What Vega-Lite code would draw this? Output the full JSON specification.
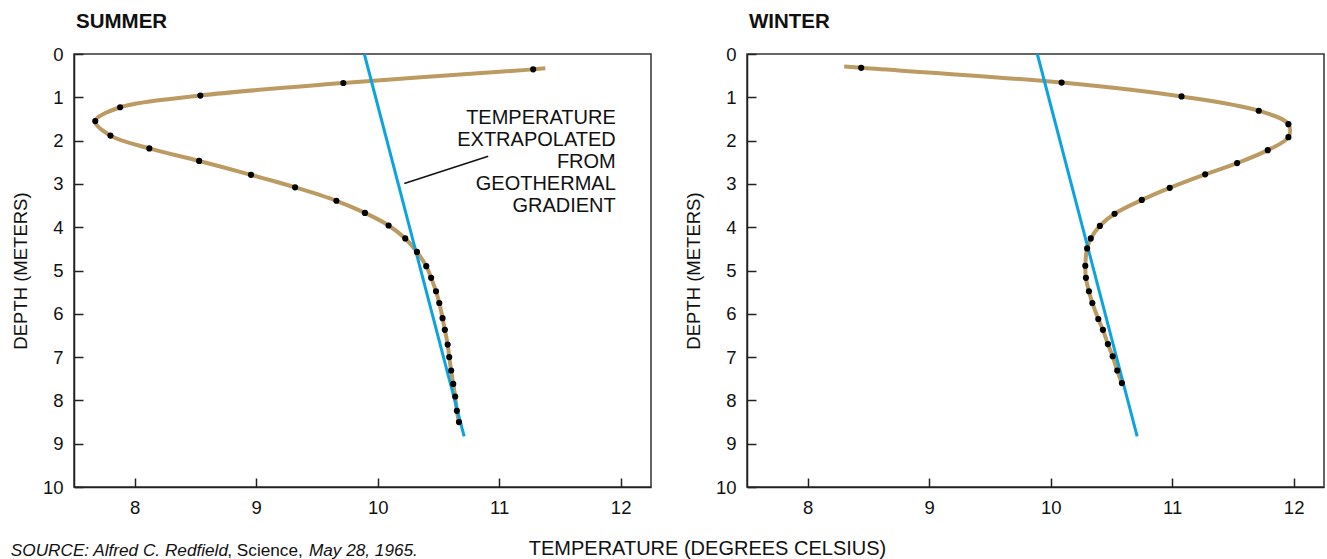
{
  "$schema": "https://vega.github.io/schema/vega-lite/v6.json",
  "padding": {"left": 10, "top": 10, "right": 2, "bottom": 2},
  "background": "white",
  "bounds": "flush",
  "spacing": 96,
  "datasets": {
    "profiles": [
      {"season": "Summer", "temp": 11.38, "depth": 0.33, "dot": false},
      {"season": "Summer", "temp": 11.28, "depth": 0.355, "dot": true},
      {"season": "Summer", "temp": 9.717, "depth": 0.67, "dot": true},
      {"season": "Summer", "temp": 8.54, "depth": 0.96, "dot": true},
      {"season": "Summer", "temp": 7.88, "depth": 1.23, "dot": true},
      {"season": "Summer", "temp": 7.675, "depth": 1.55, "dot": true},
      {"season": "Summer", "temp": 7.8, "depth": 1.885, "dot": true},
      {"season": "Summer", "temp": 8.12, "depth": 2.18, "dot": true},
      {"season": "Summer", "temp": 8.53, "depth": 2.47, "dot": true},
      {"season": "Summer", "temp": 8.957, "depth": 2.79, "dot": true},
      {"season": "Summer", "temp": 9.32, "depth": 3.08, "dot": true},
      {"season": "Summer", "temp": 9.66, "depth": 3.39, "dot": true},
      {"season": "Summer", "temp": 9.895, "depth": 3.67, "dot": true},
      {"season": "Summer", "temp": 10.09, "depth": 3.96, "dot": true},
      {"season": "Summer", "temp": 10.227, "depth": 4.26, "dot": true},
      {"season": "Summer", "temp": 10.323, "depth": 4.57, "dot": true},
      {"season": "Summer", "temp": 10.4, "depth": 4.9, "dot": true},
      {"season": "Summer", "temp": 10.44, "depth": 5.17, "dot": true},
      {"season": "Summer", "temp": 10.48, "depth": 5.48, "dot": true},
      {"season": "Summer", "temp": 10.507, "depth": 5.75, "dot": true},
      {"season": "Summer", "temp": 10.534, "depth": 6.1, "dot": true},
      {"season": "Summer", "temp": 10.553, "depth": 6.37, "dot": true},
      {"season": "Summer", "temp": 10.576, "depth": 6.71, "dot": true},
      {"season": "Summer", "temp": 10.589, "depth": 7.0, "dot": true},
      {"season": "Summer", "temp": 10.605, "depth": 7.31, "dot": true},
      {"season": "Summer", "temp": 10.622, "depth": 7.62, "dot": true},
      {"season": "Summer", "temp": 10.638, "depth": 7.91, "dot": true},
      {"season": "Summer", "temp": 10.652, "depth": 8.24, "dot": true},
      {"season": "Summer", "temp": 10.669, "depth": 8.5, "dot": true},
      {"season": "Winter", "temp": 8.3, "depth": 0.29, "dot": false},
      {"season": "Winter", "temp": 8.44, "depth": 0.32, "dot": true},
      {"season": "Winter", "temp": 10.09, "depth": 0.66, "dot": true},
      {"season": "Winter", "temp": 11.077, "depth": 0.98, "dot": true},
      {"season": "Winter", "temp": 11.713, "depth": 1.31, "dot": true},
      {"season": "Winter", "temp": 11.957, "depth": 1.62, "dot": true},
      {"season": "Winter", "temp": 11.957, "depth": 1.92, "dot": true},
      {"season": "Winter", "temp": 11.787, "depth": 2.22, "dot": true},
      {"season": "Winter", "temp": 11.535, "depth": 2.52, "dot": true},
      {"season": "Winter", "temp": 11.272, "depth": 2.78, "dot": true},
      {"season": "Winter", "temp": 10.98, "depth": 3.09, "dot": true},
      {"season": "Winter", "temp": 10.75, "depth": 3.37, "dot": true},
      {"season": "Winter", "temp": 10.526, "depth": 3.69, "dot": true},
      {"season": "Winter", "temp": 10.405, "depth": 3.97, "dot": true},
      {"season": "Winter", "temp": 10.33, "depth": 4.26, "dot": true},
      {"season": "Winter", "temp": 10.3, "depth": 4.49, "dot": true},
      {"season": "Winter", "temp": 10.285, "depth": 4.89, "dot": true},
      {"season": "Winter", "temp": 10.29, "depth": 5.17, "dot": true},
      {"season": "Winter", "temp": 10.315, "depth": 5.48, "dot": true},
      {"season": "Winter", "temp": 10.343, "depth": 5.75, "dot": true},
      {"season": "Winter", "temp": 10.392, "depth": 6.12, "dot": true},
      {"season": "Winter", "temp": 10.43, "depth": 6.37, "dot": true},
      {"season": "Winter", "temp": 10.471, "depth": 6.7, "dot": true},
      {"season": "Winter", "temp": 10.51, "depth": 6.98, "dot": true},
      {"season": "Winter", "temp": 10.548, "depth": 7.31, "dot": true},
      {"season": "Winter", "temp": 10.586, "depth": 7.6, "dot": true}
    ],
    "gradient": [
      {"temp": 9.89, "depth": 0},
      {"temp": 10.712, "depth": 8.83}
    ],
    "single": [{}]
  },
  "hconcat": [
    {
      "title": {"text": "SUMMER"},
      "width": 577,
      "height": 433,
      "layer": [
        {
          "data": {"name": "profiles"},
          "transform": [{"filter": "datum.season === 'Summer'"}],
          "mark": {"type": "line", "interpolate": "catmull-rom", "color": "#bc9b62", "strokeWidth": 4},
          "encoding": {
            "x": {"field": "temp", "type": "quantitative", "title": "TEMPERATURE (DEGREES CELSIUS)",
                  "scale": {"domain": [7.5, 12.25], "nice": false, "zero": false},
                  "axis": {"values": [8, 9, 10, 11, 12], "format": "d", "titleX": 633, "titleY": 67, "titleBaseline": "alphabetic", "titleAlign": "center", "titleFontSize": 20}},
            "y": {"field": "depth", "type": "quantitative", "title": "DEPTH (METERS)",
                  "scale": {"domain": [0, 10], "reverse": true, "nice": false, "zero": false},
                  "axis": {"values": [0, 1, 2, 3, 4, 5, 6, 7, 8, 9, 10], "format": "d", "titleX": -54, "titleY": 216.5, "titleBaseline": "middle", "titleAlign": "center"}},
            "order": {"field": "depth"}
          }
        },
        {
          "data": {"name": "gradient"},
          "mark": {"type": "line", "color": "#0ca3df", "strokeWidth": 3},
          "encoding": {
            "x": {"field": "temp", "type": "quantitative", "title": "TEMPERATURE (DEGREES CELSIUS)", "scale": {"domain": [7.5, 12.25], "nice": false, "zero": false}},
            "y": {"field": "depth", "type": "quantitative", "title": "DEPTH (METERS)", "scale": {"domain": [0, 10], "reverse": true, "nice": false, "zero": false}}
          }
        },
        {
          "data": {"name": "profiles"},
          "transform": [{"filter": "datum.season === 'Summer' && datum.dot"}],
          "mark": {"type": "circle", "color": "#000000", "opacity": 1, "size": 38},
          "encoding": {
            "x": {"field": "temp", "type": "quantitative", "title": "TEMPERATURE (DEGREES CELSIUS)", "scale": {"domain": [7.5, 12.25], "nice": false, "zero": false}},
            "y": {"field": "depth", "type": "quantitative", "title": "DEPTH (METERS)", "scale": {"domain": [0, 10], "reverse": true, "nice": false, "zero": false}}
          }
        },
        {
          "data": {"name": "single"},
          "mark": {"type": "rule", "color": "#111111", "strokeWidth": 1.5},
          "encoding": {
            "x": {"datum": 10.219, "type": "quantitative", "title": "TEMPERATURE (DEGREES CELSIUS)", "scale": {"domain": [7.5, 12.25], "nice": false, "zero": false}},
            "y": {"datum": 2.99, "type": "quantitative", "title": "DEPTH (METERS)", "scale": {"domain": [0, 10], "reverse": true, "nice": false, "zero": false}},
            "x2": {"datum": 10.91},
            "y2": {"datum": 2.36}
          }
        },
        {
          "data": {"name": "single"},
          "mark": {"type": "text", "text": ["TEMPERATURE", "EXTRAPOLATED", "FROM", "GEOTHERMAL", "GRADIENT"], "align": "right", "baseline": "alphabetic", "lineHeight": 22, "font": "Liberation Sans", "fontSize": 20, "color": "#111111"},
          "encoding": {
            "x": {"datum": 11.96, "type": "quantitative", "title": "TEMPERATURE (DEGREES CELSIUS)", "scale": {"domain": [7.5, 12.25], "nice": false, "zero": false}},
            "y": {"datum": 1.617, "type": "quantitative", "title": "DEPTH (METERS)", "scale": {"domain": [0, 10], "reverse": true, "nice": false, "zero": false}}
          }
        },
        {
          "data": {"name": "single"},
          "mark": {"type": "text", "text": "SOURCE: Alfred C. Redfield", "align": "left", "baseline": "alphabetic", "font": "Liberation Sans", "fontSize": 17.2, "fontStyle": "italic", "color": "#111111"},
          "encoding": {
            "x": {"datum": 6.98, "type": "quantitative", "title": "TEMPERATURE (DEGREES CELSIUS)", "scale": {"domain": [7.5, 12.25], "nice": false, "zero": false}},
            "y": {"datum": 11.6, "type": "quantitative", "title": "DEPTH (METERS)", "scale": {"domain": [0, 10], "reverse": true, "nice": false, "zero": false}}
          }
        },
        {
          "data": {"name": "single"},
          "mark": {"type": "text", "text": ", Science,", "align": "left", "baseline": "alphabetic", "font": "Liberation Sans", "fontSize": 17.2, "color": "#111111"},
          "encoding": {
            "x": {"datum": 8.762, "type": "quantitative", "title": "TEMPERATURE (DEGREES CELSIUS)", "scale": {"domain": [7.5, 12.25], "nice": false, "zero": false}},
            "y": {"datum": 11.6, "type": "quantitative", "title": "DEPTH (METERS)", "scale": {"domain": [0, 10], "reverse": true, "nice": false, "zero": false}}
          }
        },
        {
          "data": {"name": "single"},
          "mark": {"type": "text", "text": "May 28, 1965.", "align": "left", "baseline": "alphabetic", "font": "Liberation Sans", "fontSize": 17.2, "fontStyle": "italic", "color": "#111111"},
          "encoding": {
            "x": {"datum": 9.434, "type": "quantitative", "title": "TEMPERATURE (DEGREES CELSIUS)", "scale": {"domain": [7.5, 12.25], "nice": false, "zero": false}},
            "y": {"datum": 11.6, "type": "quantitative", "title": "DEPTH (METERS)", "scale": {"domain": [0, 10], "reverse": true, "nice": false, "zero": false}}
          }
        }
      ]
    },
    {
      "title": {"text": "WINTER"},
      "width": 577,
      "height": 433,
      "layer": [
        {
          "data": {"name": "profiles"},
          "transform": [{"filter": "datum.season === 'Winter'"}],
          "mark": {"type": "line", "interpolate": "catmull-rom", "color": "#bc9b62", "strokeWidth": 4},
          "encoding": {
            "x": {"field": "temp", "type": "quantitative", "title": null,
                  "scale": {"domain": [7.5, 12.25], "nice": false, "zero": false},
                  "axis": {"values": [8, 9, 10, 11, 12], "format": "d", "title": null}},
            "y": {"field": "depth", "type": "quantitative", "title": "DEPTH (METERS)",
                  "scale": {"domain": [0, 10], "reverse": true, "nice": false, "zero": false},
                  "axis": {"values": [0, 1, 2, 3, 4, 5, 6, 7, 8, 9, 10], "format": "d", "titleX": -54, "titleY": 216.5, "titleBaseline": "middle", "titleAlign": "center"}},
            "order": {"field": "depth"}
          }
        },
        {
          "data": {"name": "gradient"},
          "mark": {"type": "line", "color": "#0ca3df", "strokeWidth": 3},
          "encoding": {
            "x": {"field": "temp", "type": "quantitative", "title": null, "scale": {"domain": [7.5, 12.25], "nice": false, "zero": false}},
            "y": {"field": "depth", "type": "quantitative", "title": "DEPTH (METERS)", "scale": {"domain": [0, 10], "reverse": true, "nice": false, "zero": false}}
          }
        },
        {
          "data": {"name": "profiles"},
          "transform": [{"filter": "datum.season === 'Winter' && datum.dot"}],
          "mark": {"type": "circle", "color": "#000000", "opacity": 1, "size": 38},
          "encoding": {
            "x": {"field": "temp", "type": "quantitative", "title": null, "scale": {"domain": [7.5, 12.25], "nice": false, "zero": false}},
            "y": {"field": "depth", "type": "quantitative", "title": "DEPTH (METERS)", "scale": {"domain": [0, 10], "reverse": true, "nice": false, "zero": false}}
          }
        }
      ]
    }
  ],
  "config": {
    "font": "Liberation Sans",
    "view": {"stroke": "#333333", "strokeWidth": 1.5},
    "axis": {
      "grid": false,
      "domainColor": "#222222",
      "domainWidth": 1.5,
      "tickColor": "#222222",
      "tickWidth": 1.5,
      "tickSize": -9,
      "labelPadding": 20,
      "labelFlush": false,
      "labelOverlap": false,
      "labelFont": "Liberation Sans",
      "labelFontSize": 18.5,
      "labelColor": "#111111",
      "titleFont": "Liberation Sans",
      "titleFontSize": 18.5,
      "titleFontWeight": "normal",
      "titleColor": "#111111"
    },
    "title": {
      "font": "Liberation Sans",
      "fontSize": 20.5,
      "fontWeight": "bold",
      "anchor": "start",
      "frame": "group",
      "color": "#111111",
      "offset": 13,
      "baseline": "alphabetic",
      "dx": 2
    }
  }
}
